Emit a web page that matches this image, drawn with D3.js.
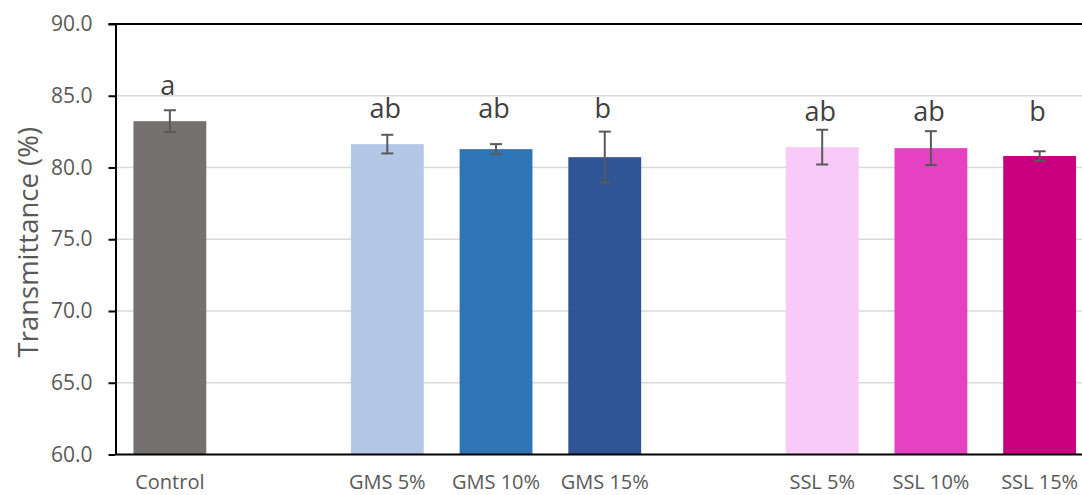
<!DOCTYPE html>
<html>
<head>
<meta charset="utf-8">
<script src="https://cdn.jsdelivr.net/npm/d3@7"></script>
<style>
  body { margin: 0; background: #fff; }
  svg { display: block; }
</style>
</head>
<body>
<svg id="chart" width="1082" height="495"></svg>
<script>
// Light transmittance (%) of each formulation, mean ± SD, with significance letters.
// Empty slots separate the control, GMS and SSL groups.
const categories = ["Control", "", "GMS 5%", "GMS 10%", "GMS 15%", "", "SSL 5%", "SSL 10%", "SSL 15%"];
const groups     = ["control", null, "gms", "gms", "gms", null, "ssl", "ssl", "ssl"];
const means      = [83.23, null, 81.63, 81.28, 80.72, null, 81.42, 81.35, 80.80];
const errors     = [0.76, null, 0.65, 0.35, 1.78, null, 1.21, 1.18, 0.33];
const letters    = ["a", "", "ab", "ab", "b", "", "ab", "ab", "b"];
const yTicks     = [60, 65, 70, 75, 80, 85, 90];

const palette = ["#767171", null, "#b4c7e7", "#2e75b6", "#2f5597", null, "#f8caf8", "#e542c2", "#c8007f"];

const svg = d3.select("#chart");
const plot = { left: 115.5, right: 1094, top: 24, bottom: 454.5 };
const font = "'Open Sans', sans-serif";

const x = d3.scaleBand()
  .domain(d3.range(categories.length))
  .range([plot.left, plot.right])
  .paddingInner(0.33)
  .paddingOuter(0.165);

const y = d3.scaleLinear()
  .domain([60, 90])
  .range([plot.bottom, plot.top]);

const rows = categories.map((c, i) => ({
  i, label: c, group: groups[i], mean: means[i], err: errors[i], letter: letters[i], color: palette[i]
})).filter(d => d.mean != null);

// Horizontal gridlines
svg.append("g")
  .selectAll("line")
  .data(yTicks.filter(t => t > 60 && t < 90))
  .join("line")
  .attr("x1", plot.left).attr("x2", 1082)
  .attr("y1", d => y(d)).attr("y2", d => y(d))
  .attr("stroke", "#d9d9d9")
  .attr("stroke-width", 1.5);

// Bars
svg.append("g")
  .selectAll("rect")
  .data(rows)
  .join("rect")
  .attr("x", d => x(d.i))
  .attr("width", x.bandwidth())
  .attr("y", d => y(d.mean))
  .attr("height", d => y(60) - y(d.mean))
  .attr("fill", d => d.color);

// Error bars
const eb = svg.append("g")
  .attr("stroke", "#595959")
  .attr("stroke-width", 2)
  .selectAll("g")
  .data(rows)
  .join("g")
  .attr("transform", d => `translate(${x(d.i) + x.bandwidth() / 2},0)`);
eb.append("line")
  .attr("y1", d => y(d.mean + d.err)).attr("y2", d => y(d.mean - d.err));
eb.append("line")
  .attr("x1", -6).attr("x2", 6)
  .attr("y1", d => y(d.mean + d.err)).attr("y2", d => y(d.mean + d.err));
eb.append("line")
  .attr("x1", -6).attr("x2", 6)
  .attr("y1", d => y(d.mean - d.err)).attr("y2", d => y(d.mean - d.err));

// Significance letters, set on a common line above each group's tallest bar
const groupTop = d3.rollup(rows, v => d3.max(v, d => d.mean), d => d.group);
svg.append("g")
  .selectAll("text")
  .data(rows)
  .join("text")
  .attr("x", d => x(d.i) + x.bandwidth() / 2 - 2)
  .attr("y", d => y(groupTop.get(d.group)) - 26)
  .attr("text-anchor", "middle")
  .attr("font-family", font)
  .attr("font-size", 27)
  .attr("fill", "#404040")
  .text(d => d.letter);

// Y axis
const yAxis = svg.append("g")
  .attr("transform", `translate(${plot.left},0)`)
  .call(d3.axisLeft(y).tickValues(yTicks).tickFormat(d3.format(".1f")).tickSize(7).tickPadding(16).tickSizeOuter(0));
yAxis.select(".domain").attr("stroke", "#000").attr("stroke-width", 2);
yAxis.selectAll(".tick line").attr("stroke", "#000").attr("stroke-width", 2);
yAxis.selectAll(".tick text")
  .attr("font-family", font)
  .attr("font-size", 21)
  .attr("fill", "#595959");

// Top border of the plot area
svg.append("line")
  .attr("x1", plot.left - 7).attr("x2", 1082)
  .attr("y1", y(90)).attr("y2", y(90))
  .attr("stroke", "#000").attr("stroke-width", 2);

// X axis
const xAxis = svg.append("g")
  .attr("transform", `translate(0,${plot.bottom})`)
  .call(d3.axisBottom(x).tickSize(0).tickPadding(20).tickFormat(i => categories[i]));
xAxis.select(".domain").attr("stroke", "#000").attr("stroke-width", 2)
  .attr("d", `M${plot.left},0H1082`);
xAxis.selectAll(".tick text")
  .attr("font-family", font)
  .attr("font-size", 20)
  .attr("fill", "#595959");

// Y axis title
svg.append("text")
  .attr("transform", `translate(38,${(plot.top + plot.bottom) / 2 + 3}) rotate(-90)`)
  .attr("text-anchor", "middle")
  .attr("font-family", font)
  .attr("font-size", 27.5)
  .attr("fill", "#595959")
  .text("Transmittance (%)");
</script>
</body>
</html>
